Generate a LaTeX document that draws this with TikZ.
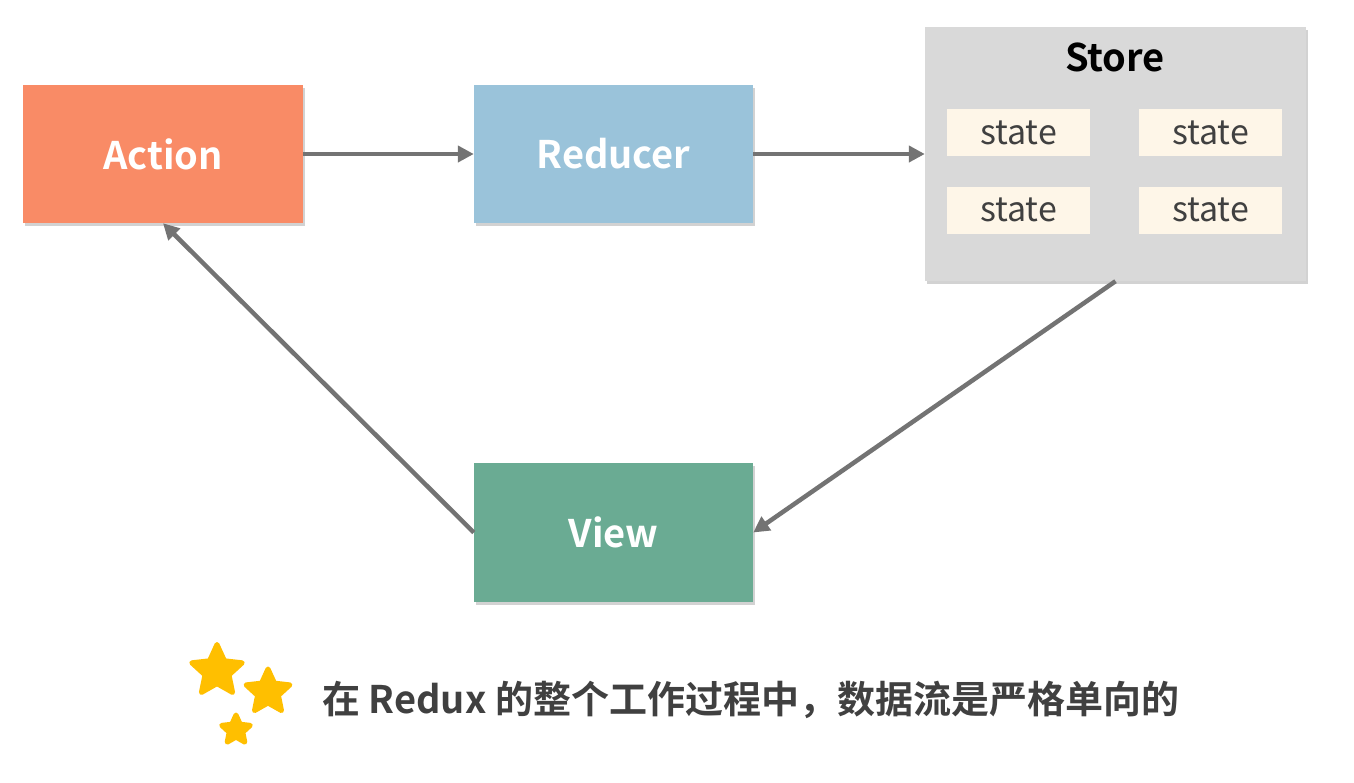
\documentclass[tikz,border=0pt]{standalone}
\usepackage{fontspec}
\setmainfont{Noto Sans CJK SC}[BoldFont=* Bold]
\usetikzlibrary{shapes.geometric,shadows,arrows.meta}
\definecolor{actc}{HTML}{F98B66}
\definecolor{redc}{HTML}{9AC3DA}
\definecolor{storec}{HTML}{D9D9D9}
\definecolor{statec}{HTML}{FEF6E8}
\definecolor{viewc}{HTML}{6AAB93}
\definecolor{arrc}{HTML}{737373}
\definecolor{txtc}{HTML}{404040}
\definecolor{starc}{HTML}{FFBF00}
\tikzset{
  box/.style={rectangle, inner sep=0pt, text=white, font=\fontsize{38}{40}\selectfont\bfseries,
    drop shadow={shadow xshift=2pt, shadow yshift=-2.5pt, opacity=0.35}},
  statebox/.style={rectangle, fill=statec, inner sep=0pt, minimum width=143pt, minimum height=47pt,
    text=txtc, font=\fontsize{34}{36}\selectfont},
  flow/.style={draw=arrc, line width=4.5pt, -{Triangle[length=16pt,width=16pt]}},
  starnode/.style={star, star points=5, star point ratio=2.1, fill=starc, draw=starc,
    line width=5pt, line join=round, inner sep=0pt}
}
\begin{document}
\begin{tikzpicture}[x=1pt,y=-1pt]
\useasboundingbox[fill=white] (0,0) rectangle (1354,782);
\node[box, fill=actc, minimum width=280pt, minimum height=138pt] (action) at (163,154) {Action};
\node[box, fill=redc, minimum width=279pt, minimum height=138pt] (reducer) at (613.5,154) {Reducer};
\node[box, fill=storec, minimum width=381pt, minimum height=254pt] (store) at (1115.5,154) {};
\node[box, fill=viewc, minimum width=279pt, minimum height=139pt] (view) at (613.5,532.5) {View};
\node[text=black, font=\fontsize{38}{40}\selectfont\bfseries] (storet) at (1115,57) {Store};
\node[statebox] (s1) at (1018.5,132.5) {state};
\node[statebox] (s2) at (1210.5,132.5) {state};
\node[statebox] (s3) at (1018.5,210) {state};
\node[statebox] (s4) at (1210.5,210) {state};
\draw[flow] (action.east) -- (reducer.west);
\draw[flow] (reducer.east) -- (store.west);
\draw[flow] (store.south) -- (view.east);
\draw[flow] (view.west) -- (action.south);
\node[starnode, minimum size=53pt] (star1) at (217,671) {};
\node[starnode, minimum size=46pt] (star2) at (268,692) {};
\node[starnode, minimum size=30pt] (star3) at (236,730) {};
\node[anchor=west, text=txtc, font=\fontsize{38}{40}\selectfont\bfseries, inner sep=0pt] (cap) at (322,700) {在 Redux 的整个工作过程中，数据流是严格单向的};
\end{tikzpicture}
\end{document}
